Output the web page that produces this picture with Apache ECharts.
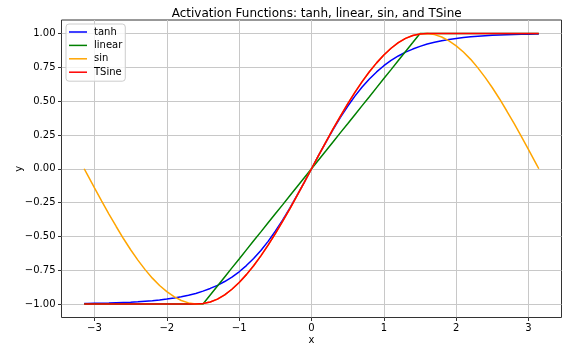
<!DOCTYPE html>
<html>
<head>
<meta charset="utf-8">
<script src="https://cdn.jsdelivr.net/npm/echarts@6/dist/echarts.min.js"></script>
<style>
  html, body {margin: 0; padding: 0; background: #fff;}
  #chart {width: 562px; height: 345px;}
</style>
</head>
<body>
<div id="chart"></div>
<script>
// sample points, -pi .. pi
const xs = [-3.142, -3.1, -3.0, -2.9, -2.8, -2.7, -2.6, -2.5, -2.4, -2.3, -2.2, -2.1, -2.0, -1.9, -1.8, -1.7, -1.6, -1.5,
  -1.4, -1.3, -1.2, -1.1, -1.0, -0.9, -0.8, -0.7, -0.6, -0.5, -0.4, -0.3, -0.2, -0.1, 0,
  0.1, 0.2, 0.3, 0.4, 0.5, 0.6, 0.7, 0.8, 0.9, 1.0, 1.1, 1.2, 1.3, 1.4,
  1.5, 1.6, 1.7, 1.8, 1.9, 2.0, 2.1, 2.2, 2.3, 2.4, 2.5, 2.6, 2.7, 2.8, 2.9, 3.0, 3.1, 3.142];

const tanhVals = [-0.996, -0.996, -0.995, -0.994, -0.993, -0.991, -0.989, -0.987, -0.984, -0.980, -0.976, -0.971, -0.964, -0.956, -0.947, -0.935, -0.922, -0.905,
  -0.885, -0.862, -0.834, -0.801, -0.762, -0.716, -0.664, -0.604, -0.537, -0.462, -0.380, -0.291, -0.197, -0.100, 0,
  0.100, 0.197, 0.291, 0.380, 0.462, 0.537, 0.604, 0.664, 0.716, 0.762, 0.801, 0.834, 0.862, 0.885,
  0.905, 0.922, 0.935, 0.947, 0.956, 0.964, 0.971, 0.976, 0.980, 0.984, 0.987, 0.989, 0.991, 0.993, 0.994, 0.995, 0.996, 0.996];

const linearVals = [-1, -1, -1, -1, -1, -1, -1, -1, -1, -1, -1, -1, -1, -1, -1, -1, -1, -1,
  -0.933, -0.867, -0.8, -0.733, -0.667, -0.6, -0.533, -0.467, -0.4, -0.333, -0.267, -0.2, -0.133, -0.067, 0,
  0.067, 0.133, 0.2, 0.267, 0.333, 0.4, 0.467, 0.533, 0.6, 0.667, 0.733, 0.8, 0.867, 0.933,
  1, 1, 1, 1, 1, 1, 1, 1, 1, 1, 1, 1, 1, 1, 1, 1, 1, 1];

const sinVals = [0, -0.042, -0.141, -0.239, -0.335, -0.427, -0.516, -0.599, -0.676, -0.746, -0.809, -0.863, -0.909, -0.946, -0.974, -0.992, -1.000, -0.997,
  -0.985, -0.964, -0.932, -0.891, -0.841, -0.783, -0.717, -0.644, -0.565, -0.479, -0.389, -0.296, -0.199, -0.100, 0,
  0.100, 0.199, 0.296, 0.389, 0.479, 0.565, 0.644, 0.717, 0.783, 0.841, 0.891, 0.932, 0.964, 0.985,
  0.997, 1.000, 0.992, 0.974, 0.946, 0.909, 0.863, 0.809, 0.746, 0.676, 0.599, 0.516, 0.427, 0.335, 0.239, 0.141, 0.042, 0];

const tsineVals = [-1, -1, -1, -1, -1, -1, -1, -1, -1, -1, -1, -1, -1, -1, -1, -1, -1, -0.997,
  -0.985, -0.964, -0.932, -0.891, -0.841, -0.783, -0.717, -0.644, -0.565, -0.479, -0.389, -0.296, -0.199, -0.100, 0,
  0.100, 0.199, 0.296, 0.389, 0.479, 0.565, 0.644, 0.717, 0.783, 0.841, 0.891, 0.932, 0.964, 0.985,
  0.997, 1, 1, 1, 1, 1, 1, 1, 1, 1, 1, 1, 1, 1, 1, 1, 1, 1];

const xTicks = [-3, -2, -1, 0, 1, 2, 3];
const yTicks = [-1, -0.75, -0.5, -0.25, 0, 0.25, 0.5, 0.75, 1];

const names = ['tanh', 'linear', 'sin', 'TSine'];
const colors = ['#0000ff', '#008000', '#ffa500', '#ff0000'];
const values = [tanhVals, linearVals, sinVals, tsineVals];

const font = 'DejaVu Sans';
const minus = v => (v < 0 ? '\u2212' : '') + Math.abs(v);

const chart = echarts.init(document.getElementById('chart'));

chart.setOption({
  animation: false,
  backgroundColor: '#fff',
  textStyle: {fontFamily: font},
  title: {
    text: 'Activation Functions: tanh, linear, sin, and TSine',
    left: 311.7,
    top: 3,
    textAlign: 'center',
    textStyle: {fontFamily: font, fontSize: 12, fontWeight: 'normal', color: '#000'}
  },
  grid: {
    left: 61.5, right: 0.5, top: 20, bottom: 27.5,
    outerBoundsMode: 'none',
    containLabel: false,
    show: true, borderColor: '#333', borderWidth: 1, backgroundColor: 'transparent'
  },
  legend: {
    orient: 'vertical',
    left: 66, top: 24,
    padding: [2, 3, 3, 3],
    itemWidth: 18, itemHeight: 1.5, itemGap: 1.4,
    icon: 'rect',
    backgroundColor: 'rgba(255,255,255,0.8)',
    borderColor: '#cccccc', borderWidth: 1, borderRadius: 3,
    textStyle: {fontFamily: font, fontSize: 10, color: '#000', lineHeight: 12, padding: [0, 0, 0, 2]},
    data: names
  },
  xAxis: {
    type: 'value',
    min: -3.4558, max: 3.4558,
    name: 'x', nameLocation: 'middle', nameGap: 18, nameMoveOverlap: false,
    nameTextStyle: {fontFamily: font, fontSize: 10, color: '#000'},
    axisLine: {show: false, onZero: false},
    axisTick: {show: true, length: 3.5, customValues: xTicks, lineStyle: {color: '#333'}},
    axisLabel: {customValues: xTicks, margin: 6, fontFamily: font, fontSize: 10, color: '#000', formatter: minus},
    splitLine: {show: true, lineStyle: {color: '#c8c8c8', width: 1}}
  },
  yAxis: {
    type: 'value',
    min: -1.1, max: 1.1,
    name: 'y', nameLocation: 'middle', nameGap: 37, nameMoveOverlap: false,
    nameTextStyle: {fontFamily: font, fontSize: 10, color: '#000'},
    axisLine: {show: false, onZero: false},
    axisTick: {show: true, length: 3.5, customValues: yTicks, lineStyle: {color: '#333'}},
    axisLabel: {
      customValues: yTicks, margin: 6, fontFamily: font, fontSize: 10, color: '#000',
      formatter: v => (v < 0 ? '\u2212' : '') + Math.abs(v).toFixed(2)
    },
    splitLine: {show: true, lineStyle: {color: '#c8c8c8', width: 1}}
  },
  series: names.map((name, k) => ({
    name: name,
    type: 'line',
    showSymbol: false,
    symbol: 'none',
    color: colors[k],
    lineStyle: {color: colors[k], width: 1.5},
    data: xs.map((x, i) => [x, values[k][i]])
  }))
});
</script>
</body>
</html>
